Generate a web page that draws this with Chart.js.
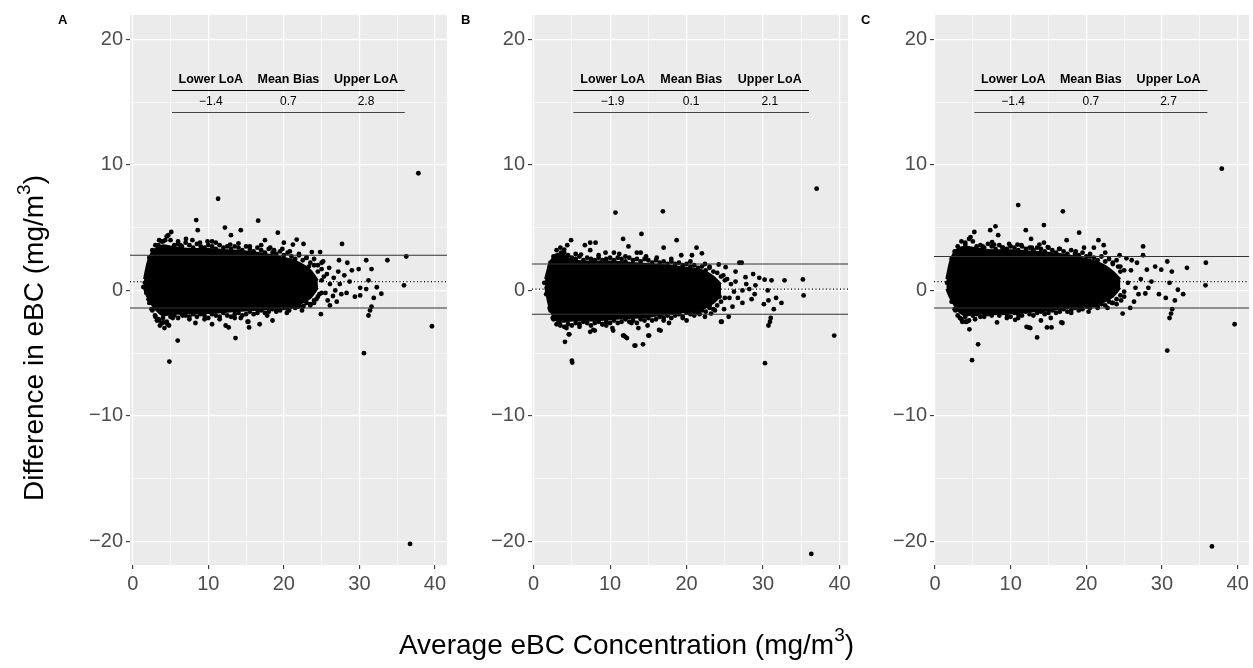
<!DOCTYPE html>
<html><head><meta charset="utf-8">
<script src="https://cdn.jsdelivr.net/npm/chart.js@4.4.1/dist/chart.umd.min.js"></script>
<style>
html,body{margin:0;padding:0;background:#fff;width:1253px;height:668px;overflow:hidden;}
canvas{position:absolute;left:0;top:0;}
.t{position:absolute;font-family:"Liberation Sans",Arial,sans-serif;color:#000;white-space:nowrap;}
.sup{font-size:19px;position:relative;top:-13px;}
.lab{font-weight:bold;font-size:13px;line-height:13px;}
</style></head><body>
<canvas id="cA" width="1253" height="668"></canvas>
<canvas id="cB" width="1253" height="668"></canvas>
<canvas id="cC" width="1253" height="668"></canvas>
<div class="t lab" style="left:58px;top:13px;">A</div>
<div class="t lab" style="left:461px;top:13px;">B</div>
<div class="t lab" style="left:861px;top:13px;">C</div>
<div class="t" style="left:0;width:1253px;top:631px;font-size:28px;line-height:28px;text-align:center;">Average eBC Concentration (mg/m<span class="sup">3</span>)</div>
<div class="t" style="left:-216px;top:323px;width:500px;height:30px;line-height:30px;font-size:28px;text-align:center;transform:rotate(-90deg);">Difference in eBC (mg/m<span class="sup">3</span>)</div>
<script>
// ---------- data ----------
const xTicks = [0, 10, 20, 30, 40];
const yTicks = [-20, -10, 0, 10, 20];
const tableHeaders = ['Lower LoA', 'Mean Bias', 'Upper LoA'];

// x positions of the ragged upper / lower edge of the dense point cloud
const edgeX = [2.2,2.6,3.0,3.5,4.0,4.5,5.0,5.5,6.0,6.5,7.0,7.5,8.0,8.5,9.0,9.5,10.0,10.5,11.0,11.5,12.0,12.5,13.0,13.5,14.0,14.5,15.0,15.5,16.0,16.5,17.0,17.5,18.0,18.5,19.0,19.5,20.0,20.5,21.0,21.5,22.0,22.5,23.0,23.5,24.0,24.5,25.0];

// Panel A
const aLoA = [-1.4, 0.7, 2.8];
const aX = [11.3,8.4,8.6,5.1,12.2,14.3,16.6,13.0,19.2,17.5,14.0,7.05,7.9,9.9,11.0,20.0,21.7,21.2,22.6,23.7,24.8,27.7,18.7,30.9,33.7,36.2,35.9,39.6,28.4,27.3,31.6,31.2,32.3,32.9,31.9,31.6,31.4,31.2,29.0,29.9,30.1,30.9,29.4,30.1,28.7,27.4,27.6,26.5,26.1,24.9,26.1,26.6,27.2,26.0,25.2,25.7,23.7,24.3,23.5,22.6,21.9,20.4,19.0,16.8,15.3,15.4,14.3,13.6,12.7,12.3,10.5,8.3,6.6,5.95,4.8,4.05,3.4,2.95,2.5,2.1,1.6,1.4,2.3,2.7,3.4,4.3,4.7,6.3,8.9,12.9,15.5,18.2,4.85,15.2,30.6,36.7,37.8,3.2,3.9,4.6,24.0,25.0,25.5,24.5,23.0,22.0,20.8,19.8,17.0,10.5,6.0,3.8,2.0,1.8,9.5,11.5,13.5,17.8,18.5,20.7,22.4,7.5,5.3,4.2,3.6,22.8,23.3,24.2,24.7,25.3,25.8,24.0,25.0,26.8,27.0,28.0,28.3];
const aY = [7.3,5.6,4.8,4.65,5.0,4.8,5.55,4.4,4.6,4.0,3.75,4.1,4.0,3.9,3.8,3.8,4.05,3.65,3.7,3.05,3.05,3.7,3.2,2.4,2.4,2.7,0.4,-2.86,2.2,2.4,1.7,0.8,0.25,-0.26,-0.6,-1.3,-1.6,-2.0,1.6,1.7,0.2,0.1,-0.5,-0.4,0.7,0.5,-0.3,-0.45,-1.2,-1.9,0.5,1.0,1.5,1.8,2.3,1.3,0.0,-0.7,-1.2,-1.25,-1.3,-1.8,-1.5,-2.7,-2.5,-2.95,-2.2,-3.8,-2.95,-2.8,-2.7,-2.6,-2.0,-4.0,-2.8,-2.55,-2.3,-2.0,-1.5,-0.7,0.6,0.26,2.1,3.0,3.6,4.0,4.4,3.6,3.8,3.65,3.5,3.4,-5.67,-2.5,-5.0,-20.2,9.33,-2.4,-2.6,-2.7,2.0,0.8,-0.2,1.5,2.6,2.9,3.1,3.3,3.6,3.9,3.9,3.9,1.5,-0.2,-2.3,-2.3,-2.2,-2.0,-2.4,-1.6,-1.6,-2.3,-2.2,-3.0,-2.8,0.5,1.9,0.3,-0.3,1.1,-0.8,-1.0,2.2,0.0,-0.9,1.2,-0.2];
const aTopY = [2.6,3.2,3.6,4.0,3.9,4.3,4.0,3.6,3.7,3.5,3.8,3.6,3.4,3.7,3.5,3.4,3.6,3.5,3.3,3.6,3.4,3.5,3.3,3.5,3.4,3.2,3.5,3.3,3.1,3.4,3.2,3.0,3.3,3.0,2.9,3.1,2.8,3.0,2.7,2.5,2.8,2.4,2.6,2.2,2.5,2.0,1.7];
const aBotY = [-1.0,-1.6,-2.1,-2.4,-2.2,-2.5,-2.1,-2.0,-2.2,-1.9,-2.0,-2.1,-1.9,-2.1,-1.9,-2.0,-2.2,-1.9,-2.0,-2.1,-1.8,-2.0,-2.1,-1.9,-1.8,-2.0,-1.9,-1.7,-1.9,-1.8,-1.6,-1.8,-1.7,-1.5,-1.7,-1.6,-1.4,-1.5,-1.3,-1.4,-1.2,-1.3,-1.0,-1.1,-0.8,-0.5,-0.2];
const aCoreX    = [1.5, 2.0, 2.5, 3.0, 4.0, 5.0, 7.5, 10, 12.5, 15, 17.5, 20, 22, 23.5, 24.5];
const aCoreLow  = [0.1, -0.6, -1.1, -1.5, -2.0, -1.9, -1.8, -1.8, -1.7, -1.6, -1.5, -1.3, -1.1, -0.6, 0.2];
const aCoreHigh = [0.9, 2.3, 3.0, 3.3, 3.6, 3.5, 3.3, 3.3, 3.2, 3.1, 2.9, 2.6, 2.2, 1.6, 0.8];

// Panel B
const bLoA = [-1.9, 0.1, 2.1];
const bX = [10.7,16.9,37.0,14.1,11.7,12.4,4.9,4.4,6.7,7.4,8.1,7.4,6.2,9.4,10.5,11.2,13.5,14.0,14.7,16.1,17.0,18.7,19.3,20.7,21.3,22.0,22.4,24.2,25.1,26.9,27.2,26.4,27.7,28.7,29.5,30.2,31.1,32.8,35.2,35.3,31.7,32.4,31.4,30.7,30.1,30.6,31.0,30.9,30.7,28.2,27.3,27.3,26.7,25.6,25.5,24.5,23.7,23.2,22.4,21.7,20.0,18.6,16.4,15.0,14.3,13.2,13.7,12.2,11.7,10.3,8.0,7.4,9.5,4.6,4.1,4.3,3.4,2.5,2.1,1.65,1.4,2.1,2.5,3.6,4.0,5.0,5.05,4.67,7.8,10.4,11.8,12.0,14.9,16.6,17.7,24.6,30.25,39.3,36.3,13.3,15.1,20.5,23.0,24.8,25.8,18.0,12.0,8.5,5.5,3.0,6.0,9.0,12.8,17.0,19.5,21.0,23.0,26.0,28.5,29.0,23.4,24.3,25.3,26.2,24.9,26.4,28.9,27.8];
const bY = [6.2,6.3,8.1,4.5,4.1,3.5,4.0,3.6,3.6,3.8,3.8,3.2,2.85,3.0,3.0,2.9,3.0,3.0,2.7,2.6,3.4,4.0,2.8,2.8,3.4,2.95,2.1,2.06,1.85,2.2,2.2,1.5,1.05,1.3,1.0,0.85,0.8,0.8,0.87,-0.4,-0.6,-1.0,-1.5,-0.8,-1.1,0.0,-2.2,-2.5,-2.8,0.1,0.0,-1.0,-0.6,-0.6,-2.1,-2.5,-1.6,-1.85,-2.1,-1.9,-2.4,-1.9,-3.15,-3.6,-4.3,-4.4,-3.0,-3.8,-3.6,-3.0,-3.2,-3.3,-2.8,-3.5,-4.1,-3.0,-2.7,-2.2,-1.4,-0.3,0.6,1.9,2.3,3.0,3.25,-5.6,-5.75,-3.5,-3.15,-3.2,-3.6,-3.7,-2.8,-3.2,-2.6,-2.5,-5.8,-3.6,-21.0,-4.4,-3.6,2.3,1.9,1.2,0.5,2.5,2.7,2.8,2.9,2.7,-2.9,-2.7,-2.6,-2.4,-2.2,-2.0,-1.2,-1.3,-0.7,0.4,0.3,-0.5,0.9,-0.1,-1.5,0.7,-0.3,0.5];
const bTopY = [2.2,2.7,3.2,3.4,3.0,2.8,2.6,2.5,2.7,2.4,2.6,2.5,2.4,2.6,2.4,2.5,2.6,2.4,2.6,2.5,2.3,2.6,2.4,2.5,2.3,2.5,2.4,2.2,2.4,2.2,2.3,2.1,2.3,2.1,2.2,2.0,2.1,1.9,2.0,1.8,1.9,1.6,1.8,1.5,1.4,1.1,0.8];
const bBotY = [-1.6,-2.3,-2.7,-2.8,-2.9,-2.7,-2.8,-2.6,-2.7,-2.5,-2.6,-2.8,-2.6,-2.5,-2.7,-2.5,-2.6,-2.4,-2.6,-2.5,-2.3,-2.5,-2.4,-2.6,-2.3,-2.4,-2.2,-2.4,-2.3,-2.1,-2.2,-2.0,-2.2,-2.0,-1.9,-2.1,-1.8,-1.9,-1.7,-1.8,-1.6,-1.7,-1.4,-1.5,-1.2,-0.9,-0.6];
const bCoreX    = [1.5, 2.0, 2.5, 3.0, 4.0, 5.0, 7.5, 10, 12.5, 15, 17.5, 20, 22, 23.5, 24.5];
const bCoreLow  = [0.3, -1.2, -2.0, -2.4, -2.5, -2.4, -2.4, -2.3, -2.2, -2.1, -1.9, -1.7, -1.5, -1.0, -0.4];
const bCoreHigh = [0.9, 2.0, 2.6, 2.9, 2.8, 2.4, 2.3, 2.3, 2.2, 2.1, 2.0, 1.8, 1.6, 1.1, 0.5];

// Panel C
const cLoA = [-1.4, 0.7, 2.7];
const cX = [11.0,16.9,14.4,8.0,7.3,8.35,5.2,4.7,12.0,12.7,19.05,17.4,9.8,10.9,11.4,13.8,14.4,14.9,7.55,7.8,6.3,16.4,19.7,21.0,21.6,22.3,22.5,24.4,25.3,27.5,27.5,26.7,28.0,29.1,29.9,30.7,31.3,33.3,35.8,35.75,39.6,31.0,32.1,32.8,31.7,31.35,31.2,31.0,30.5,29.6,28.6,27.8,26.9,26.5,25.8,24.8,24.0,23.4,22.8,20.3,19.1,16.7,15.3,15.4,14.8,13.5,14.0,12.4,12.1,10.6,8.2,5.7,4.55,4.0,3.3,2.7,2.3,1.6,2.3,2.7,4.0,8.9,12.8,18.6,30.7,4.9,12.6,16.85,36.6,37.9,3.6,4.2,20.5,23.5,24.5,25.5,25.0,21.5,18.0,11.0,9.5,6.5,5.3,23.2,24.6,25.9,26.3,27.2,28.2,24.2,26.0];
const cY = [6.8,6.3,5.2,5.1,4.8,4.4,4.65,4.25,4.8,4.1,4.6,4.0,3.7,3.65,3.6,3.65,3.8,3.45,3.85,3.65,3.5,3.3,3.4,3.4,4.0,3.6,3.0,2.8,2.55,3.5,2.8,2.2,1.65,1.9,1.65,2.3,1.5,1.8,2.2,0.4,-2.7,0.6,0.05,-0.3,-0.8,-1.5,-1.85,-2.2,-0.6,-0.3,0.7,-0.25,-0.3,0.2,-1.4,-1.85,-1.1,-1.0,-1.4,-1.7,-1.4,-2.55,-2.2,-2.95,-2.95,-3.75,-2.4,-2.95,-2.9,-2.35,-2.55,-4.3,-3.1,-2.5,-2.2,-1.6,-0.85,0.6,2.2,3.0,3.65,3.4,3.4,3.1,-4.8,-5.56,-3.0,-2.6,-20.4,9.7,-2.5,-2.5,2.7,2.2,1.5,0.6,-0.5,-1.4,-1.8,-2.2,-2.2,-2.1,-2.3,0.4,-0.8,1.6,-0.9,0.9,0.2,1.9,2.4];
const cTopY = [2.5,3.1,3.5,3.9,3.8,4.1,3.9,3.5,3.6,3.4,3.7,3.5,3.3,3.6,3.4,3.3,3.5,3.4,3.2,3.5,3.3,3.4,3.2,3.4,3.3,3.1,3.4,3.2,3.0,3.3,3.1,2.9,3.2,2.9,2.8,3.0,2.7,2.9,2.6,2.4,2.7,2.3,2.5,2.1,2.4,1.9,1.6];
const cBotY = [-0.9,-1.5,-2.0,-2.3,-2.1,-2.4,-2.0,-1.9,-2.1,-1.8,-1.9,-2.0,-1.8,-2.0,-1.8,-1.9,-2.1,-1.8,-1.9,-2.0,-1.7,-1.9,-2.0,-1.8,-1.7,-1.9,-1.8,-1.6,-1.8,-1.7,-1.5,-1.7,-1.6,-1.4,-1.6,-1.5,-1.3,-1.4,-1.2,-1.3,-1.1,-1.2,-0.9,-1.0,-0.7,-0.4,-0.1];
const cCoreX    = [1.5, 2.0, 2.5, 3.0, 4.0, 5.0, 7.5, 10, 12.5, 15, 17.5, 20, 22, 23.5, 24.5];
const cCoreLow  = [0.1, -0.6, -1.1, -1.6, -2.0, -1.9, -1.8, -1.8, -1.7, -1.6, -1.4, -1.2, -1.0, -0.5, 0.2];
const cCoreHigh = [0.9, 2.3, 3.0, 3.3, 3.5, 3.4, 3.2, 3.2, 3.1, 3.0, 2.8, 2.5, 2.1, 1.5, 0.9];

// ---------- helpers ----------
const FONT = '"Liberation Sans", Arial, sans-serif';
const fmt = v => (v < 0 ? '\u2212' + Math.abs(v) : String(v));
const fmt1 = v => (v < 0 ? '\u2212' + Math.abs(v).toFixed(1) : v.toFixed(1));
const pts = (xs, ys) => xs.map((x, i) => ({x, y: ys[i]}));

const bgPlugin = {
  id: 'panelBg',
  beforeDraw(chart) {
    const a = chart.chartArea, c = chart.ctx;
    c.save(); c.fillStyle = '#EBEBEB';
    c.fillRect(a.left, a.top, a.right - a.left, a.bottom - a.top);
    c.restore();
  }
};
const tablePlugin = {
  id: 'loaTable',
  afterDraw(chart, args, o) {
    const c = chart.ctx, x = chart.scales.x, y = chart.scales.y;
    const l = x.getPixelForValue(o.x0), r = x.getPixelForValue(o.x1), w = r - l;
    c.save();
    c.textAlign = 'center'; c.textBaseline = 'middle'; c.fillStyle = '#000';
    c.font = 'bold 12.5px ' + FONT;
    tableHeaders.forEach((h, i) => c.fillText(h, l + w * (2 * i + 1) / 6, y.getPixelForValue(o.yHead)));
    c.font = '12px ' + FONT;
    o.values.forEach((v, i) => c.fillText(fmt1(v), l + w * (2 * i + 1) / 6, y.getPixelForValue(o.yVal)));
    c.lineWidth = 1.1;
    c.strokeStyle = '#000';
    let py = Math.round(y.getPixelForValue(o.yLine1)) + 0.5;
    c.beginPath(); c.moveTo(l, py); c.lineTo(r, py); c.stroke();
    c.strokeStyle = '#444';
    py = Math.round(y.getPixelForValue(o.yLine2)) + 0.5;
    c.beginPath(); c.moveTo(l, py); c.lineTo(r, py); c.stroke();
    c.restore();
  }
};

function makePanel(id, area, xr, fx, fy, topY, botY, coreX, coreLow, coreHigh, loa) {
  const W = 1253, H = 668, yAxisW = 40, xAxisH = 30;
  const yr = [-21.88, 21.94];
  const hline = (v, dash, col) => ({
    type: 'line', data: [{x: xr[0], y: v}, {x: xr[1], y: v}], showLine: true,
    borderColor: col, borderWidth: 1.1, borderDash: dash, pointRadius: 0, fill: false
  });
  const dots = d => ({data: d, pointRadius: 2.4, pointBackgroundColor: '#000', pointBorderWidth: 0, showLine: false});
  const axisCommon = {
    type: 'linear',
    border: {display: false},
    grid: {
      color: '#FFFFFF',
      lineWidth: ctx => (ctx.tick && ctx.tick.value % 10 === 0 ? 1.2 : 0.55),
      drawTicks: true, tickLength: 4,
      tickColor: ctx => (ctx.tick && ctx.tick.value % 10 === 0 ? '#333333' : 'rgba(0,0,0,0)'),
      tickWidth: 1.1
    },
    ticks: {
      stepSize: 5, includeBounds: false, autoSkip: false, maxRotation: 0, padding: 3,
      color: '#4D4D4D', font: {family: FONT, size: 20},
      callback: v => (xTicks.includes(v) || yTicks.includes(v) ? fmt(v) : '')
    }
  };
  return new Chart(document.getElementById(id), {
    type: 'scatter',
    data: {
      datasets: [
        hline(loa[2], [], '#333333'),
        hline(loa[0], [], '#333333'),
        hline(loa[1], [1, 2.5], '#000000'),
        dots(pts(fx, fy)),
        dots(pts(edgeX, topY)),
        dots(pts(edgeX, botY)),
        {type: 'line', data: pts(coreX, coreHigh), showLine: true, borderColor: '#000', borderWidth: 2,
         backgroundColor: '#000', fill: '+1', pointRadius: 0, tension: 0.3},
        {type: 'line', data: pts(coreX, coreLow), showLine: true, borderColor: '#000', borderWidth: 2,
         fill: false, pointRadius: 0, tension: 0.3}
      ]
    },
    options: {
      responsive: false, animation: false, devicePixelRatio: 1,
      layout: {padding: {left: area[0] - yAxisW, right: W - area[1], top: area[2], bottom: H - area[3] - xAxisH}},
      plugins: {
        legend: {display: false}, tooltip: {enabled: false},
        loaTable: {values: loa, x0: 5.2, x1: 36, yHead: 16.8, yLine1: 15.95, yVal: 15.0, yLine2: 14.2}
      },
      scales: {
        x: Object.assign({}, axisCommon, {min: xr[0], max: xr[1], position: 'bottom',
           afterFit: s => { s.height = xAxisH; }}),
        y: Object.assign({}, axisCommon, {min: yr[0], max: yr[1], position: 'left',
           afterFit: s => { s.width = yAxisW; }})
      }
    },
    plugins: [bgPlugin, tablePlugin]
  });
}

makePanel('cA', [130, 447, 13, 565], [-0.36, 41.59], aX, aY, aTopY, aBotY, aCoreX, aCoreLow, aCoreHigh, aLoA);
makePanel('cB', [532, 848, 13, 565], [-0.21, 41.1], bX, bY, bTopY, bBotY, bCoreX, bCoreLow, bCoreHigh, bLoA);
makePanel('cC', [934, 1249, 13, 565], [-0.13, 41.5], cX, cY, cTopY, cBotY, cCoreX, cCoreLow, cCoreHigh, cLoA);
</script>
</body></html>
